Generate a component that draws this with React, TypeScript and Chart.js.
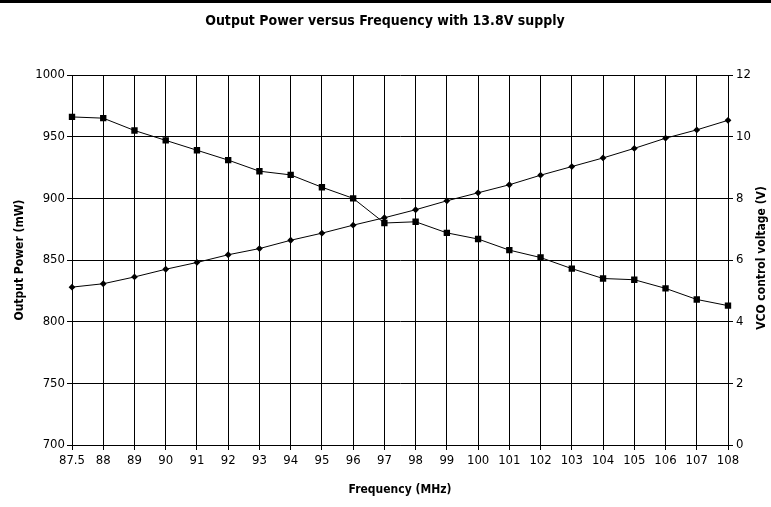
import React, { useEffect, useRef } from "react";
import { Chart, registerables } from "chart.js";

Chart.register(...registerables);

const frequencies = ["87.5","88","89","90","91","92","93","94","95","96","97","98","99","100","101","102","103","104","105","106","107","108"];
const outputPower = [966, 965, 955, 947, 939, 931, 922, 919, 909, 900, 880, 881, 872, 867, 858, 852, 843, 835, 834, 827, 818, 813];
const vcoVoltage = [5.12, 5.23, 5.45, 5.7, 5.92, 6.17, 6.37, 6.64, 6.87, 7.13, 7.37, 7.63, 7.92, 8.18, 8.44, 8.75, 9.03, 9.31, 9.62, 9.95, 10.22, 10.53];

const chartTitle = "Output Power versus Frequency with 13.8V supply";
const xTitle = "Frequency (MHz)";
const yLeftTitle = "Output Power (mW)";
const yRightTitle = "VCO control voltage (V)";

const FONT = "'Liberation Sans Narrow', 'DejaVu Sans Condensed', 'Arial Narrow', 'Liberation Sans', sans-serif";

const decorPlugin = {
  id: "decor",
  afterDraw(chart: any) {
    const ctx = chart.ctx;
    ctx.save();
    ctx.fillStyle = "#000";
    ctx.fillRect(0, 0, chart.width, 3);
    ctx.font = `bold 14px ${FONT}`;
    ctx.textAlign = "center";
    ctx.textBaseline = "middle";
    ctx.fillText(chartTitle, 385, 21);
    ctx.font = `bold 12px ${FONT}`;
    ctx.translate(762, 258);
    ctx.rotate(-Math.PI / 2);
    ctx.fillText(yRightTitle, 0, 0);
    ctx.restore();
  },
};

export default function App() {
  const ref = useRef<HTMLCanvasElement | null>(null);
  useEffect(() => {
    document.body.style.margin = "0";
    const tickFont = { family: FONT, size: 13 };
    const chart = new Chart(ref.current as HTMLCanvasElement, {
      type: "line",
      data: {
        labels: frequencies,
        datasets: [
          {
            label: "Output Power",
            data: outputPower,
            yAxisID: "y",
            borderColor: "#000",
            backgroundColor: "#000",
            borderWidth: 1,
            pointStyle: "rect",
            pointRadius: 4.5,
            pointBorderWidth: 0,
            tension: 0,
          },
          {
            label: "VCO control voltage",
            data: vcoVoltage,
            yAxisID: "y1",
            borderColor: "#000",
            backgroundColor: "#000",
            borderWidth: 1,
            pointStyle: "rectRot",
            pointRadius: 3.4,
            pointBorderWidth: 0,
            tension: 0,
          },
        ],
      },
      options: {
        animation: false,
        responsive: false,
        maintainAspectRatio: false,
        layout: { padding: { top: 75, left: 0, right: 0, bottom: 0 } },
        plugins: { legend: { display: false }, tooltip: { enabled: false }, title: { display: false } },
        scales: {
          x: {
            type: "category",
            offset: false,
            grid: { color: "#000", lineWidth: 1, tickLength: 5 },
            border: { color: "#000", width: 1 },
            ticks: { color: "#000", font: tickFont, maxRotation: 0, autoSkip: false, padding: 3 },
            title: { display: true, text: xTitle, color: "#000", font: { family: FONT, size: 12, weight: "bold" }, padding: { top: 0, bottom: 10 } },
            afterFit(scale: any) { scale.height = 62; },
          },
          y: {
            position: "left",
            min: 700,
            max: 1000,
            ticks: { stepSize: 50, color: "#000", font: tickFont, padding: 2, callback: (v: any) => String(v) },
            grid: { color: "#000", lineWidth: 1, tickLength: 5 },
            border: { color: "#000", width: 1 },
            title: { display: true, text: yLeftTitle, color: "#000", font: { family: FONT, size: 12, weight: "bold" }, padding: { top: 13, bottom: 0 } },
            afterFit(scale: any) { scale.width = 72; },
          },
          y1: {
            position: "right",
            min: 0,
            max: 12,
            ticks: { stepSize: 2, color: "#000", font: tickFont, padding: 3, callback: (v: any) => String(v) },
            grid: { drawOnChartArea: false, color: "#000", lineWidth: 1, tickLength: 5 },
            border: { color: "#000", width: 1 },
            afterFit(scale: any) { scale.width = 43; },
          },
        },
      },
      plugins: [decorPlugin],
    });
    return () => chart.destroy();
  }, []);
  return (
    <div style={{ position: "absolute", left: 0, top: 0, width: 771, height: 507, background: "#fff" }}>
      <canvas ref={ref} width={771} height={507} style={{ width: 771, height: 507 }} />
    </div>
  );
}
